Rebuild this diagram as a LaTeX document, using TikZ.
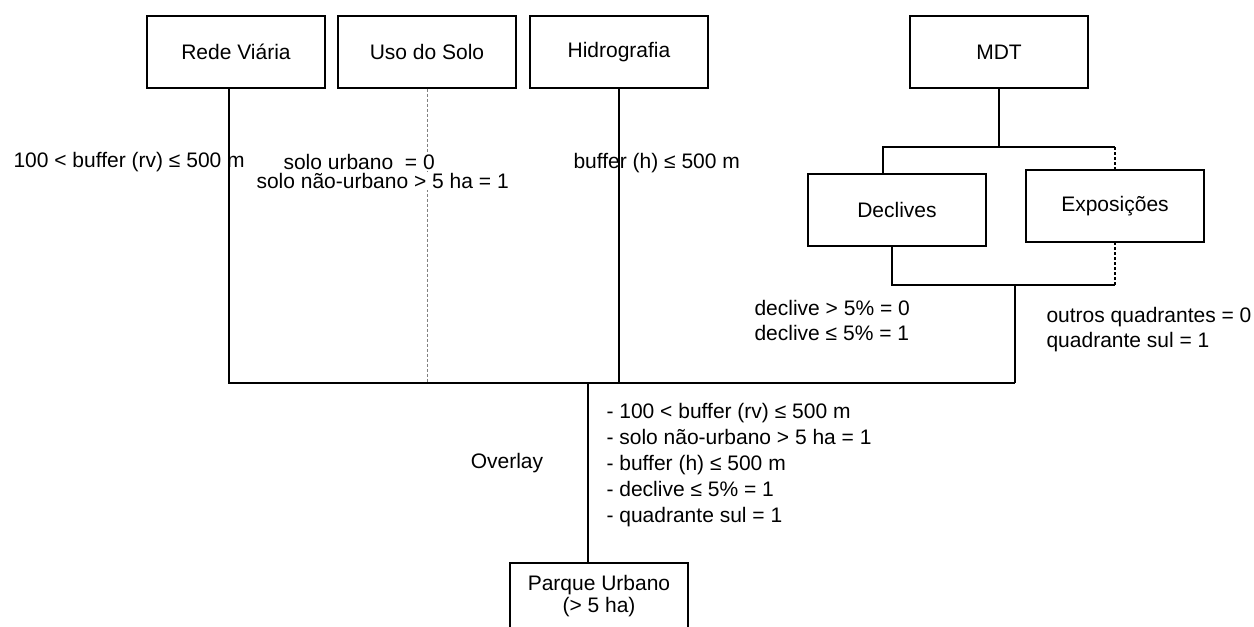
\documentclass[tikz,border=0pt]{standalone}
\usepackage{fontspec}
\setmainfont{Liberation Sans}
\usepackage{tikz}

\tikzset{camada/.style={draw,minimum width=178pt,minimum height=72pt,font=\fontsize{21}{25}\selectfont},
rotulo/.style={font=\fontsize{21}{25}\selectfont,inner sep=1pt}}

\begin{document}
\begin{tikzpicture}[x=1pt,y=-1pt,line width=1.1pt]
\useasboundingbox (0,0) rectangle (1254,627);
\foreach \nome/\x/\texto in {rede/236/Rede Viária,uso/427/Uso do Solo,hidro/619/Hidrografia,mdt/999/MDT}
   \node[camada] (\nome) at (\x,52) {\texto};
\node[camada] (decl) at (897,210) {Declives};
\node[camada] (expo) at (1115,206) {Exposições};
\node[camada,align=center,minimum height=66pt,font=\fontsize{21}{22}\selectfont] (parque) at (599,596) {Parque Urbano\\(> 5 ha)};
\coordinate (ramo) at (998,147);
\coordinate (juncao) at (1015,285);
\coordinate (bus) at (0,383);
\coordinate (saida) at (588,383);
\draw ([xshift=-7pt]rede.south) |- (juncao |- bus);
\draw (hidro.south) -- (hidro.south |- bus);
\draw[gray,densely dashed,line width=0.8pt] (uso.south) -- (uso.south |- bus);
\draw (mdt.south) -- (mdt.south |- ramo);
\draw ([xshift=-14pt]decl.north) |- (ramo) -- (ramo -| expo.north);
\draw[densely dashed] (ramo -| expo.north) -- (expo.north);
\draw ([xshift=-5pt]decl.south) |- (juncao) -- (juncao -| expo.south);
\draw[densely dashed] (juncao -| expo.south) -- (expo.south);
\draw (juncao) -- (juncao |- bus);
\draw (saida) -- (saida |- parque.north);
\node[rotulo,anchor=west] (rv) at (12,162) {100 < buffer (rv) ≤ 500 m};
\node[rotulo,anchor=west,fill=white] (solo1) at (282,162) {solo urbano\ \ = 0};
\node[rotulo,anchor=west,fill=white] (solo2) at (255,181) {solo não-urbano > 5 ha = 1};
\node[rotulo,anchor=west] (bh) at (572,163) {buffer (h) ≤ 500 m};
\node[rotulo,anchor=west,align=left] (decltxt) at (753,320) {declive > 5\% = 0\\declive ≤ 5\% = 1};
\node[rotulo,anchor=west,align=left] (expotxt) at (1045,330) {outros quadrantes = 0\\quadrante sul = 1};
\node[rotulo] (overlay) at (507,463) {Overlay};
\node[rotulo,anchor=west,align=left,font=\fontsize{21}{26}\selectfont] (lista) at (605,465) {- 100 < buffer (rv) ≤ 500 m\\- solo não-urbano > 5 ha = 1\\- buffer (h) ≤ 500 m\\- declive ≤ 5\% = 1\\- quadrante sul = 1};
\end{tikzpicture}
\end{document}
